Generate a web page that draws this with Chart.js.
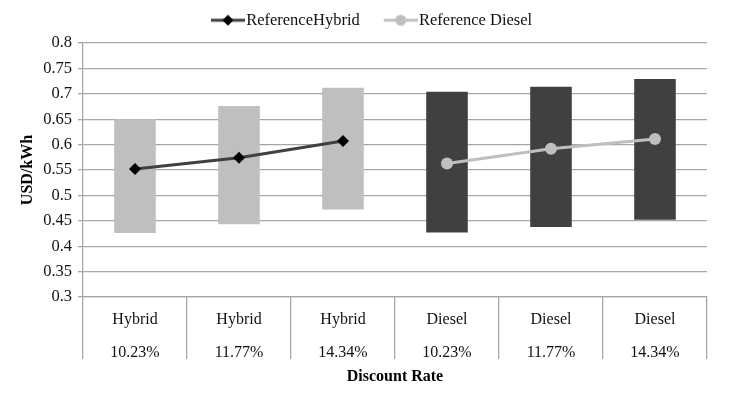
<!DOCTYPE html>
<html><head><meta charset="utf-8">
<script src="https://cdn.jsdelivr.net/npm/chart.js@4.4.1/dist/chart.umd.min.js"></script>
<style>html,body{margin:0;padding:0;background:#fff}#wrap{width:737px;height:394px}</style>
</head><body><div id="wrap"><canvas id="c" width="737" height="394"></canvas></div>
<script>
const categories = ["Hybrid","Hybrid","Hybrid","Diesel","Diesel","Diesel"];
const rates = ["10.23%","11.77%","14.34%","10.23%","11.77%","14.34%"];
const barLow = [0.426,0.443,0.472,0.427,0.438,0.452];
const barHigh = [0.650,0.676,0.712,0.704,0.714,0.729];
const hybridLine = [0.552,0.574,0.607,null,null,null];
const dieselLine = [null,null,null,0.563,0.592,0.611];
const yTicks = [0.3,0.35,0.4,0.45,0.5,0.55,0.6,0.65,0.7,0.75,0.8];

const HY_BAR = '#bfbfbf', DI_BAR = '#404040';
const GRID = '#a6a6a6';
const SERIF = "'Liberation Serif','Times New Roman',serif";

// legend icon: transparent left part, line+marker in right 34px
const BOXW = 41, IMGW = BOXW + 14;
function legendIcon(lineColor, markColor, shape){
  const c = document.createElement('canvas'); c.width = IMGW; c.height = 14;
  const x = c.getContext('2d');
  const x0 = IMGW - 34, xm = x0 + 17;
  x.strokeStyle = lineColor; x.lineWidth = 3;
  x.beginPath(); x.moveTo(x0,7); x.lineTo(IMGW,7); x.stroke();
  x.fillStyle = markColor; x.beginPath();
  if (shape === 'diamond'){ x.moveTo(xm,1.5); x.lineTo(xm+5.5,7); x.lineTo(xm,12.5); x.lineTo(xm-5.5,7); x.closePath(); }
  else { x.arc(xm,7,5.5,0,Math.PI*2); }
  x.fill();
  return c;
}
const iconH = legendIcon('#404040','#000','diamond');
const iconD = legendIcon('#bfbfbf','#bfbfbf','circle');

const labels = categories.map((c,i)=>[c, rates[i]]);

const legendTweak = {
  id:'legendTweak',
  beforeInit(chart){
    const lg = chart.legend;
    const origFit = lg.fit;
    lg.fit = function(){ origFit.call(this); this.height = 41; };
    const origDraw = lg.draw;
    lg.draw = function(...a){
      const ctx = this.ctx; ctx.save(); ctx.translate(11, 0);
      origDraw.apply(this, a); ctx.restore();
    };
  }
};

new Chart(document.getElementById('c'), {
  type: 'bar',
  plugins:[legendTweak],
  data: {
    labels: labels,
    datasets: [
      { type:'line', label:'ReferenceHybrid', data: hybridLine, borderColor:'#404040', borderWidth:3,
        pointStyle:'rectRot', pointRadius:6, pointBackgroundColor:'#000', pointBorderColor:'#000', pointBorderWidth:0,
        order:0, spanGaps:false },
      { type:'line', label:'Reference Diesel', data: dieselLine, borderColor:'#bfbfbf', borderWidth:3,
        pointStyle:'circle', pointRadius:6, pointBackgroundColor:'#bfbfbf', pointBorderColor:'#bfbfbf', pointBorderWidth:0,
        order:1, spanGaps:false },
      { type:'bar', label:'range', data: barLow.map((v,i)=>[v, barHigh[i]]),
        backgroundColor: categories.map(c => c === 'Hybrid' ? HY_BAR : DI_BAR),
        barPercentage:0.4, categoryPercentage:1, order:2 }
    ]
  },
  options: {
    responsive:false, animation:false,
    layout:{ padding:{ left:0, right:30, top:2, bottom:0 } },
    plugins:{
      tooltip:{enabled:false},
      legend:{
        position:'top',
        labels:{
          usePointStyle:true, pointStyleWidth:BOXW,
          generateLabels: chart => [
            {text:'ReferenceHybrid', pointStyle: iconH, fillStyle:'#000', strokeStyle:'#000', lineWidth:0, datasetIndex:0, fontColor:'#111'},
            {text:'Reference Diesel', pointStyle: iconD, fillStyle:'#bfbfbf', strokeStyle:'#bfbfbf', lineWidth:0, datasetIndex:1, fontColor:'#111'}
          ],
          font:{ family:SERIF, size:16.5 }, color:'#111', padding:10
        }
      }
    },
    scales:{
      x:{
        grid:{ display:true, drawOnChartArea:false, drawTicks:true, tickLength:62, color:GRID, lineWidth:1.3, offset:true },
        border:{ display:true, color:GRID, width:1.3 },
        ticks:{ font:{ family:SERIF, size:16, lineHeight:2.06 }, color:'#111', padding:-56, maxRotation:0, autoSkip:false },
        title:{ display:true, text:'Discount Rate', font:{ family:SERIF, size:16, weight:'bold' }, color:'#000', padding:{top:0,bottom:8} },
        afterFit: s => { s.height = 97; }
      },
      y:{
        min:0.3, max:0.8,
        afterBuildTicks: s => { s.ticks = yTicks.map(v=>({value:v})); },
        grid:{ color:GRID, lineWidth:1.3, tickLength:5, drawTicks:true },
        border:{ display:true, color:GRID, width:1.3 },
        ticks:{ font:{ family:SERIF, size:16.5 }, color:'#111', padding:6,
          callback: v => String(+v.toFixed(2)) },
        title:{ display:true, text:'USD/kWh', font:{ family:SERIF, size:16, weight:'bold' }, color:'#000', padding:{top:18,bottom:0} },
        afterFit: s => { s.width = 83; }
      }
    }
  }
});
</script>
</body></html>
